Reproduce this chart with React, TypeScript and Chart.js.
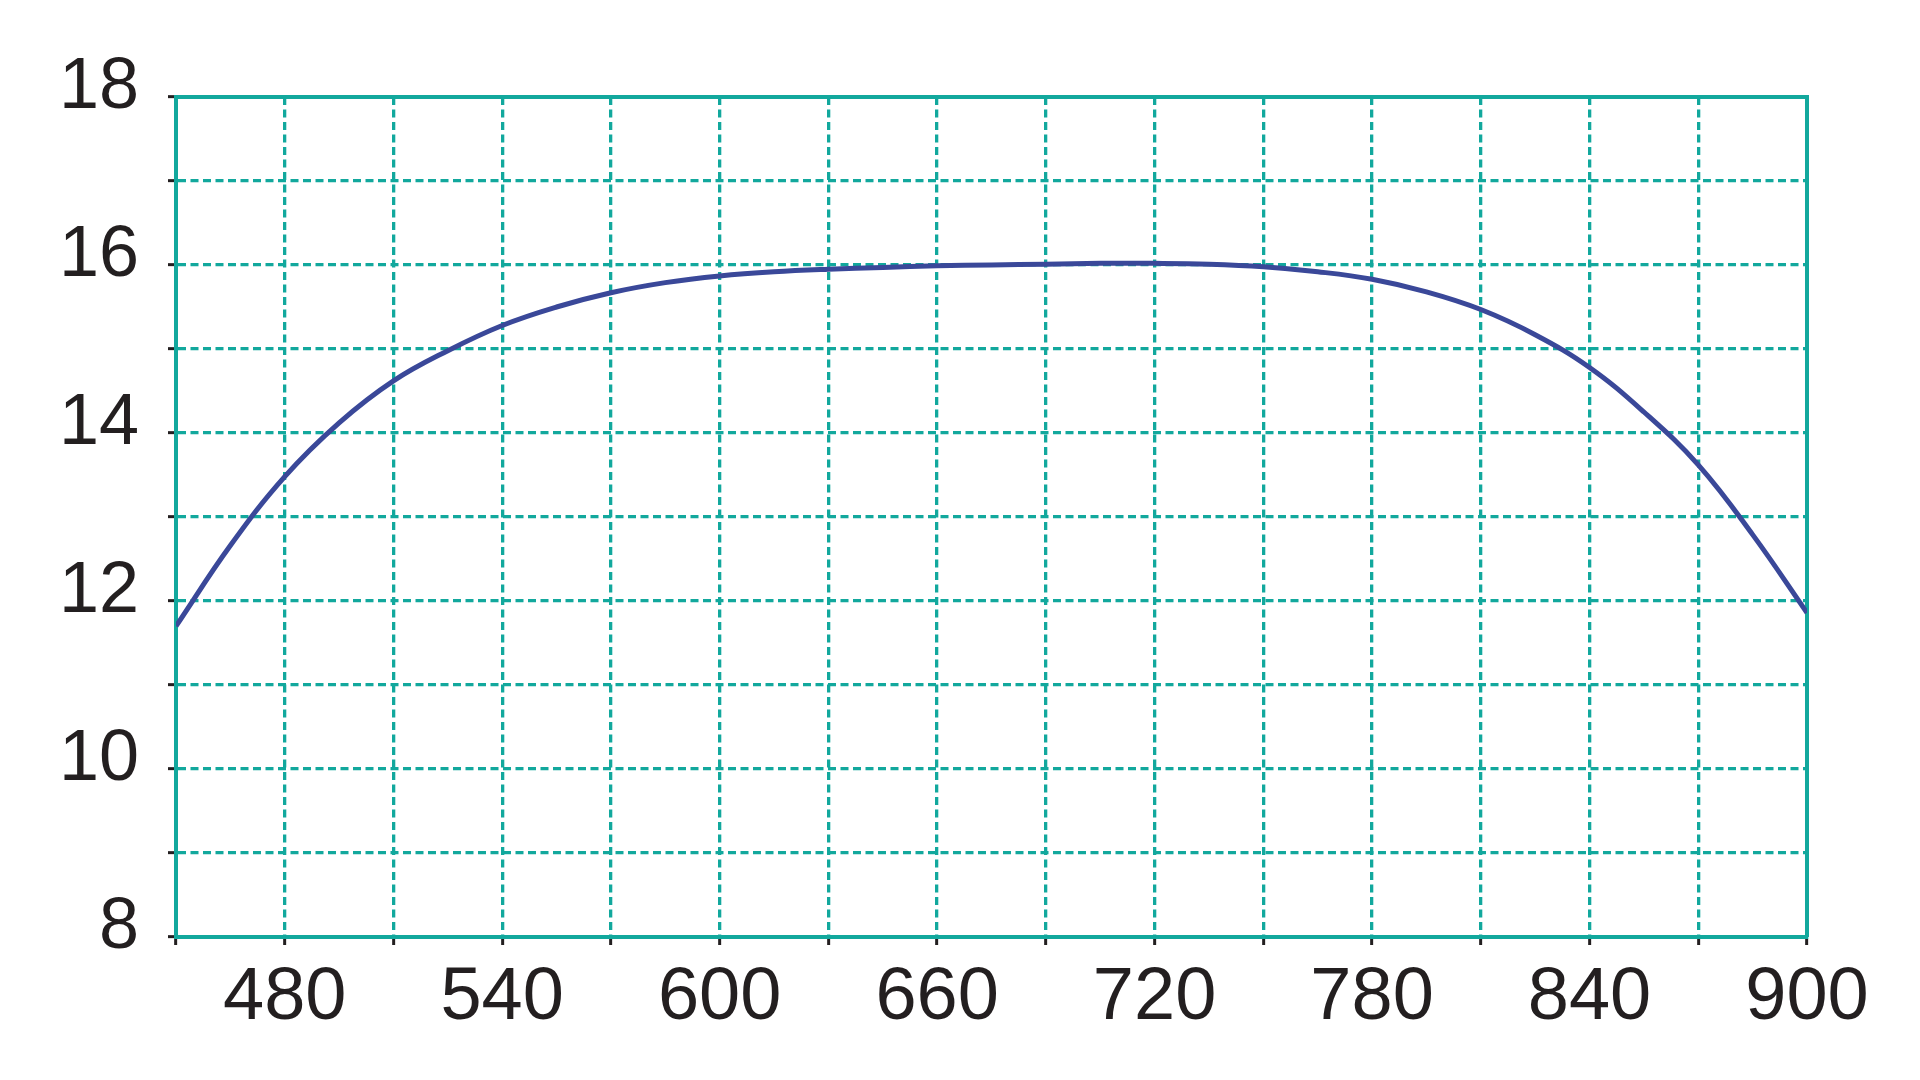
import React, { useEffect, useRef } from "react";
import { Chart, registerables } from "chart.js";

Chart.register(...registerables);

const xValues = [450, 465, 480, 495, 510, 525, 540, 555, 570, 585, 600, 615, 630, 645, 660, 675, 690, 705, 720, 735, 750, 765, 780, 795, 810, 825, 840, 855, 870, 885, 900];
const yValues = [11.7, 12.66, 13.48, 14.12, 14.62, 14.98, 15.28, 15.5, 15.67, 15.79, 15.87, 15.92, 15.95, 15.97, 15.99, 16.0, 16.01, 16.02, 16.02, 16.01, 15.98, 15.92, 15.83, 15.68, 15.47, 15.17, 14.78, 14.25, 13.62, 12.79, 11.86];

const xMin = 450;
const xMax = 900;
const xStep = 30;
const yMin = 8;
const yMax = 18;
const yStep = 1;

const TEAL = "#12a89d";
const CURVE = "#3a4899";
const TICK = "#231f20";

const framePlugin = {
  id: "frame",
  beforeDatasetsDraw(chart: any) {
    const { ctx, chartArea } = chart;
    ctx.save();
    ctx.strokeStyle = TEAL;
    ctx.lineWidth = 4;
    ctx.beginPath();
    ctx.moveTo(chartArea.left, chartArea.top);
    ctx.lineTo(chartArea.right, chartArea.top);
    ctx.lineTo(chartArea.right, chartArea.bottom);
    ctx.stroke();
    ctx.restore();
  },
};

export default function App() {
  const ref = useRef<HTMLCanvasElement>(null);
  useEffect(() => {
    const data = xValues.map((x, i) => ({ x, y: yValues[i] }));
    const chart = new Chart(ref.current!, {
      type: "line",
      data: {
        datasets: [
          {
            data,
            borderColor: CURVE,
            borderWidth: 5,
            pointRadius: 0,
            tension: 0.4,
            fill: false,
          },
        ],
      },
      plugins: [framePlugin],
      options: {
        animation: false,
        responsive: false,
        maintainAspectRatio: false,
        layout: { padding: { top: 97, right: 113, left: 0, bottom: 0 } },
        plugins: { legend: { display: false }, tooltip: { enabled: false } },
        scales: {
          x: {
            type: "linear",
            min: xMin,
            max: xMax,
            afterFit: (s: any) => {
              s.height = 143;
            },
            ticks: {
              stepSize: xStep,
              autoSkip: false,
              maxRotation: 0,
              padding: 9,
              color: TICK,
              font: { family: "'Liberation Sans', Arial, sans-serif", size: 74 },
              callback: (v: any) => (Number(v) % 60 === 0 ? String(v) : ""),
            },
            grid: {
              color: TEAL,
              lineWidth: 3.3,
              tickColor: TICK,
              tickWidth: 3,
              tickLength: 8,
              tickBorderDash: [],
            },
            border: { display: true, color: TEAL, width: 4, dash: [8, 4.5] },
          },
          y: {
            type: "linear",
            min: yMin,
            max: yMax,
            afterFit: (s: any) => {
              s.width = 176;
            },
            ticks: {
              stepSize: yStep,
              autoSkip: false,
              padding: 29,
              labelOffset: -9,
              color: TICK,
              font: { family: "'Liberation Sans', Arial, sans-serif", size: 72 },
              callback: (v: any) => (Number(v) % 2 === 0 ? String(v) : ""),
            },
            grid: {
              color: TEAL,
              lineWidth: 3.3,
              tickColor: TICK,
              tickWidth: 3,
              tickLength: 8,
              tickBorderDash: [],
            },
            border: { display: true, color: TEAL, width: 4, dash: [8, 4.5] },
          },
        },
      },
    } as any);
    return () => chart.destroy();
  }, []);
  return (
    <div style={{ position: "fixed", left: 0, top: 0, width: 1920, height: 1080, background: "#fff" }}>
      <canvas ref={ref} width={1920} height={1080} style={{ width: 1920, height: 1080 }} />
    </div>
  );
}
